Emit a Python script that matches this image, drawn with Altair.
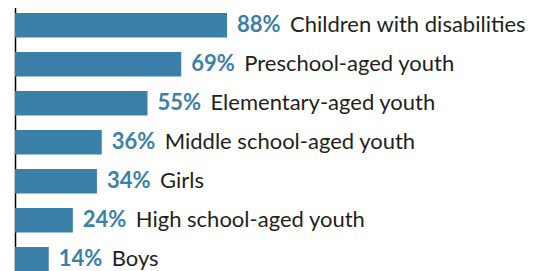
import altair as alt
import pandas as pd

categories = [
    "Children with disabilities",
    "Preschool-aged youth",
    "Elementary-aged youth",
    "Middle school-aged youth",
    "Girls",
    "High school-aged youth",
    "Boys",
]
values = [88, 69, 55, 36, 34, 24, 14]
pct_labels = [f"{v}%" for v in values]

df = pd.DataFrame({"category": categories, "value": values, "pct": pct_labels})

BAR = "#3a80a8"
TEXT = "#231f20"
FONT = "Lato"

y_enc = alt.Y(
    "category:N",
    sort=categories,
    axis=alt.Axis(labels=False, ticks=False, title=None, domain=True,
                  domainColor="#000000", domainWidth=1.5, grid=False),
    scale=alt.Scale(range=[-2.2, 270.8], paddingInner=0.37, paddingOuter=0.185),
)
x_enc = alt.X("value:Q", axis=None,
              scale=alt.Scale(domain=[0, 212.5], nice=False, zero=True))

base = alt.Chart(df)

bars = base.mark_bar(color=BAR).encode(x=x_enc, y=y_enc)

pct = base.mark_text(align="left", baseline="alphabetic", dx=10, dy=6.5,
                     font=FONT, fontWeight="bold", fontSize=22, color=BAR).encode(
    x=x_enc, y=y_enc, text="pct:N")

label = base.mark_text(align="left", baseline="alphabetic", dx=63, dy=6.5,
                       font=FONT, fontWeight="normal", fontSize=22, color=TEXT).encode(
    x=x_enc, y=y_enc, text="category:N")

chart = alt.layer(bars, pct, label).properties(
    width=512,
    height=263,
    padding={"left": 7, "top": 0, "right": 8, "bottom": 0},
    autosize=alt.AutoSizeParams(type="none"),
).configure_view(stroke=None)

chart.save("out.html", embed_options={"renderer": "svg", "actions": False})
